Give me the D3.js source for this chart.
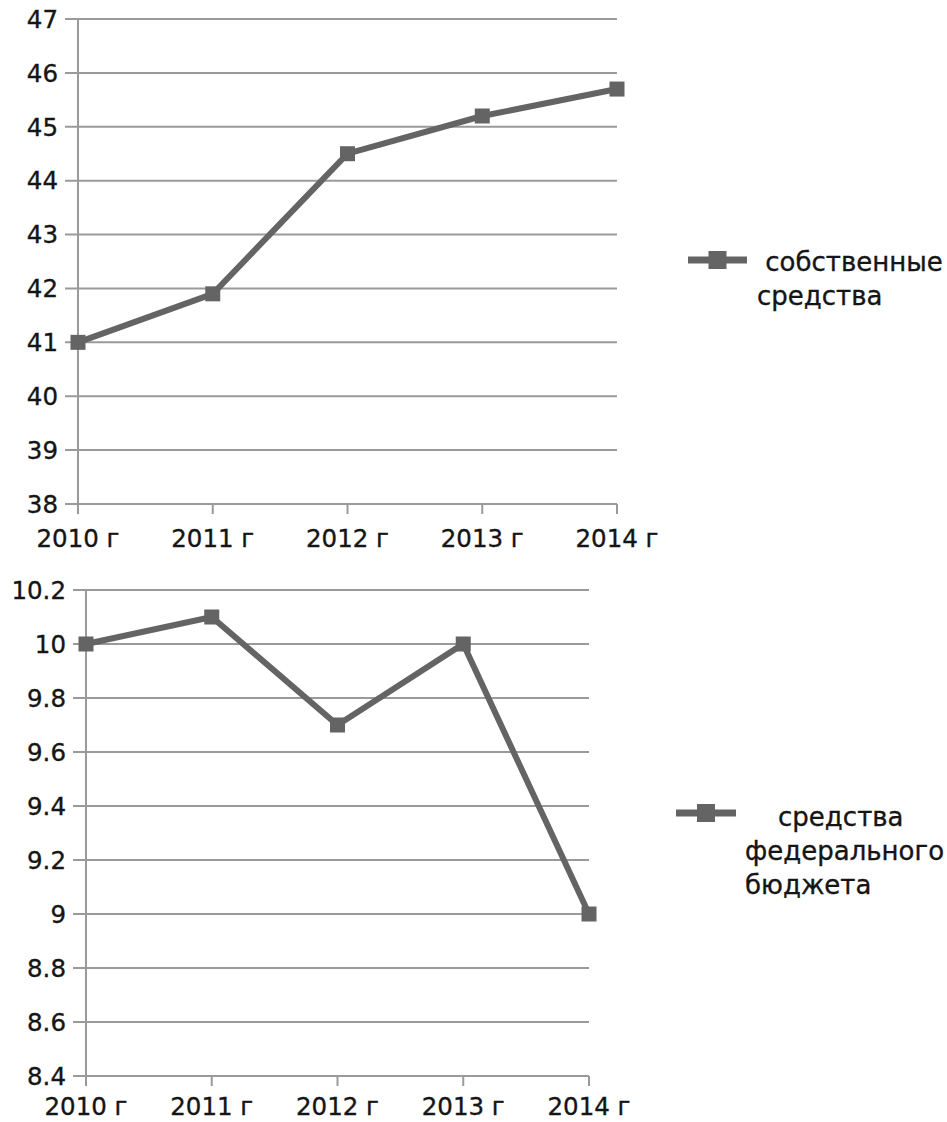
<!DOCTYPE html>
<html><head><meta charset="utf-8">
<script src="https://cdn.jsdelivr.net/npm/d3@7"></script>
<style>body{margin:0;background:#fff}svg{display:block}text{font-family:"DejaVu Sans",sans-serif;fill:#151515;stroke:#151515;stroke-width:0.35px}</style>
</head><body>
<svg id="c" width="947" height="1122"></svg>
<script>
const categories = ["2010 г","2011 г","2012 г","2013 г","2014 г"];
const ownFunds = [41, 41.9, 44.5, 45.2, 45.7];
const federalFunds = [10, 10.1, 9.7, 10, 9.0];
const ticksTop = [38,39,40,41,42,43,44,45,46,47];
const ticksBottom = [8.4,8.6,8.8,9,9.2,9.4,9.6,9.8,10,10.2];
const legendTop = [" собственные", "средства"];
const legendBottom = ["    средства", "федерального", "бюджета"];

const svg = d3.select("#c");
const FS = 24.5, LFS = 26, gridC = "#9a9a9a", lineC = "#646464";

function chart(cfg){
  const g = svg.append("g");
  const x = d3.scalePoint().domain(categories).range([cfg.x0, cfg.x1]);
  const y = d3.scaleLinear().domain(cfg.domain).range([cfg.y1, cfg.y0]);
  g.selectAll(".grid").data(cfg.ticks).join("line")
    .attr("x1", cfg.x0 - 13).attr("x2", cfg.x1)
    .attr("y1", d=>y(d)).attr("y2", d=>y(d))
    .attr("stroke", gridC).attr("stroke-width", 2);
  g.selectAll(".yl").data(cfg.ticks).join("text")
    .attr("x", cfg.x0 - 20).attr("y", d=>y(d)).attr("dy","0.36em")
    .attr("text-anchor","end").attr("font-size",FS)
    .text(d=>String(d));
  g.append("line").attr("x1",cfg.x0).attr("x2",cfg.x0).attr("y1",y(cfg.domain[1])).attr("y2",cfg.y1+10)
    .attr("stroke",gridC).attr("stroke-width",2);
  g.selectAll(".xt").data(categories).join("line")
    .attr("x1",d=>x(d)).attr("x2",d=>x(d)).attr("y1",cfg.y1).attr("y2",cfg.y1+10)
    .attr("stroke",gridC).attr("stroke-width",2);
  g.selectAll(".xl").data(categories).join("text")
    .attr("x",d=>x(d)).attr("y",cfg.y1+cfg.lblOff).attr("text-anchor","middle").attr("font-size",FS)
    .text(d=>d);
  const pts = categories.map((c,i)=>[x(c), y(cfg.values[i])]);
  g.append("path").attr("d", d3.line()(pts)).attr("fill","none")
    .attr("stroke",lineC).attr("stroke-width",6).attr("stroke-linejoin","miter");
  g.selectAll(".m").data(pts).join("rect")
    .attr("x",d=>d[0]-7.5).attr("y",d=>d[1]-7.5).attr("width",15).attr("height",15).attr("fill",lineC);
  const L = cfg.legend;
  g.append("line").attr("x1",L.lx0).attr("x2",L.lx1).attr("y1",L.ly).attr("y2",L.ly)
    .attr("stroke",lineC).attr("stroke-width",7);
  g.append("rect").attr("x",(L.lx0+L.lx1)/2-9).attr("y",L.ly-9).attr("width",18).attr("height",18).attr("fill",lineC);
  const t = g.append("text").attr("font-size",LFS).attr("xml:space","preserve").style("white-space","pre");
  cfg.legendText.forEach((s,i)=>{
    t.append("tspan").attr("x",L.tx).attr("y",L.ty + i*34).text(s);
  });
}

chart({x0:78, x1:617, y0:19, y1:504, domain:[38,47], ticks:ticksTop, values:ownFunds,
  legendText:legendTop, lblOff:43,
  legend:{lx0:688, lx1:747, ly:260, tx:757, ty:271}});
chart({x0:86, x1:589, y0:590, y1:1076, domain:[8.4,10.2], ticks:ticksBottom, values:federalFunds,
  legendText:legendBottom, lblOff:39,
  legend:{lx0:676, lx1:736, ly:813, tx:745, ty:826}});
</script>
</body></html>
